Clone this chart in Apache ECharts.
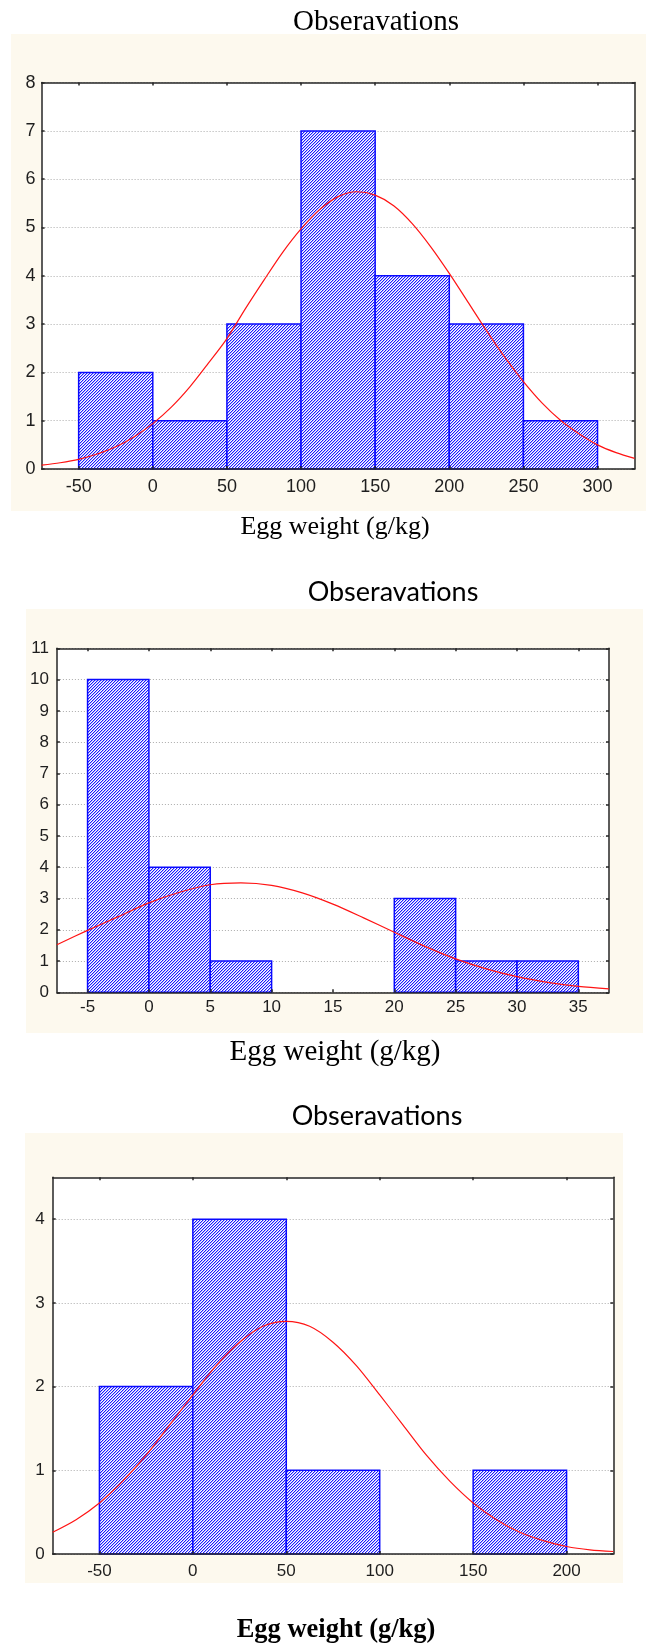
<!DOCTYPE html>
<html>
<head>
<meta charset="utf-8">
<script src="https://cdn.jsdelivr.net/npm/echarts@6.0.0/dist/echarts.min.js"></script>
<style>
  html, body { margin: 0; padding: 0; background: #fff; }
  #chart { width: 646px; height: 1648px; }
</style>
</head>
<body>
<div id="chart"></div>
<script>
// panel 1 — egg weight, bins of 50
const binStart1 = [-50, 0, 50, 100, 150, 200, 250];
const binEnd1 = [0, 50, 100, 150, 200, 250, 300];
const count1 = [2, 1, 3, 7, 4, 3, 1];
const curveX1 = [-75, -62.5, -50, -37.5, -25, -12.5, 0, 12.5, 25, 37.5, 50, 62.5, 75, 87.5, 100, 112.5, 125, 137.5,
  150, 162.5, 175, 187.5, 200, 212.5, 225, 237.5, 250, 262.5, 275, 287.5, 300, 312.5, 325];
const curveY1 = [0.08, 0.13, 0.20, 0.31, 0.46, 0.67, 0.94, 1.28, 1.70, 2.19, 2.70, 3.32, 3.91, 4.48, 4.97, 5.37, 5.64, 5.74,
  5.67, 5.45, 5.08, 4.60, 4.05, 3.46, 2.87, 2.31, 1.81, 1.37, 1.01, 0.73, 0.50, 0.34, 0.22];
const xTicks1 = [-50, 0, 50, 100, 150, 200, 250, 300];
const yTicks1 = [0, 1, 2, 3, 4, 5, 6, 7, 8];

// panel 2 — bins of 5
const binStart2 = [-5, 0, 5, 10, 15, 20, 25, 30];
const binEnd2 = [0, 5, 10, 15, 20, 25, 30, 35];
const count2 = [10, 4, 1, 0, 0, 3, 1, 1];
const curveX2 = [-7.5, -5, -2.5, 0, 2.5, 5, 7.5, 10, 12.5, 15, 17.5, 20, 22.5, 25, 27.5, 30, 32.5, 35, 37.5];
const curveY2 = [1.52, 1.98, 2.42, 2.86, 3.20, 3.44, 3.50, 3.42, 3.18, 2.82, 2.38, 1.92, 1.47, 1.07, 0.75, 0.50, 0.32, 0.19, 0.11];
const xTicks2 = [-5, 0, 5, 10, 15, 20, 25, 30, 35];
const yTicks2 = [0, 1, 2, 3, 4, 5, 6, 7, 8, 9, 10, 11];

// panel 3 — bins of 50
const binStart3 = [-50, 0, 50, 100, 150];
const binEnd3 = [0, 50, 100, 150, 200];
const count3 = [2, 4, 1, 0, 1];
const curveX3 = [-75, -62.5, -50, -37.5, -25, -12.5, 0, 12.5, 25, 37.5, 50, 62.5, 75, 87.5, 100, 112.5, 125,
  137.5, 150, 162.5, 175, 187.5, 200, 212.5, 225];
const curveY3 = [0.26, 0.41, 0.61, 0.87, 1.18, 1.54, 1.90, 2.25, 2.53, 2.72, 2.78, 2.72, 2.53, 2.25, 1.90, 1.54, 1.18,
  0.87, 0.61, 0.41, 0.26, 0.16, 0.09, 0.05, 0.03];
const xTicks3 = [-50, 0, 50, 100, 150, 200];
const yTicks3 = [0, 1, 2, 3, 4];

const titleText = 'Obseravations';
const xName = 'Egg weight (g/kg)';

// small 3x3 tile -> "////" hatching like the Statistica plots
function makeHatch() {
  const c = document.createElement('canvas');
  c.width = 3; c.height = 3;
  const ctx = c.getContext('2d');
  const img = ctx.createImageData(3, 3);
  const cols = [[25, 25, 255], [178, 178, 255], [255, 255, 255]];
  for (let y = 0; y < 3; y++) {
    for (let x = 0; x < 3; x++) {
      const k = (x + y) % 3;
      const i = (y * 3 + x) * 4;
      img.data[i] = cols[k][0];
      img.data[i + 1] = cols[k][1];
      img.data[i + 2] = cols[k][2];
      img.data[i + 3] = 255;
    }
  }
  ctx.putImageData(img, 0, 0);
  return c;
}
const hatch = { image: makeHatch(), repeat: 'repeat' };

const panels = [
  {
    bins: binStart1.map((s, i) => [s, binEnd1[i], count1[i]]),
    curve: curveX1.map((x, i) => [x, curveY1[i]]),
    xTicks: xTicks1, yTicks: yTicks1,
    xMin: -75, xMax: 325, yMax: 8,
    grid: { left: 41.6, top: 82.6, width: 593, height: 386.4 },
    fs: 18, xMargin: 9, yMargin: 6,
  },
  {
    bins: binStart2.map((s, i) => [s, binEnd2[i], count2[i]]),
    curve: curveX2.map((x, i) => [x, curveY2[i]]),
    xTicks: xTicks2, yTicks: yTicks2,
    xMin: -7.5, xMax: 37.5, yMax: 11,
    grid: { left: 56.9, top: 648.3, width: 552.1, height: 344 },
    fs: 17, xMargin: 7, yMargin: 8,
  },
  {
    bins: binStart3.map((s, i) => [s, binEnd3[i], count3[i]]),
    curve: curveX3.map((x, i) => [x, curveY3[i]]),
    xTicks: xTicks3, yTicks: yTicks3,
    xMin: -75, xMax: 225, yMax: 4.5,
    grid: { left: 52.7, top: 1177.3, width: 560.6, height: 376.7 },
    fs: 17, xMargin: 9, yMargin: 8,
  },
];

const frame = { show: true, onZero: false, lineStyle: { color: '#262626', width: 1.5 } };
const tick = { show: true, inside: true, length: 3, lineStyle: { color: '#262626', width: 1.5 } };
const labelFont = { fontFamily: "'Liberation Sans', Arial, sans-serif", color: '#1e1e1e' };

const grid = [], xAxis = [], yAxis = [], series = [];
panels.forEach((p, i) => {
  grid.push(Object.assign({ show: true, backgroundColor: '#fff', borderWidth: 0 }, p.grid));
  xAxis.push({
    gridIndex: i, type: 'value', position: 'bottom', min: p.xMin, max: p.xMax, z: 3,
    axisLine: frame,
    axisTick: Object.assign({ customValues: p.xTicks }, tick),
    axisLabel: Object.assign({ customValues: p.xTicks, fontSize: p.fs, margin: p.xMargin }, labelFont),
    splitLine: { show: false },
  });
  xAxis.push({
    gridIndex: i, type: 'value', position: 'top', min: p.xMin, max: p.xMax, z: 3,
    axisLine: frame,
    axisTick: Object.assign({ customValues: p.xTicks }, tick),
    axisLabel: { show: false },
    splitLine: { show: false },
  });
  yAxis.push({
    gridIndex: i, type: 'value', position: 'left', min: 0, max: p.yMax, interval: 1,
    axisLine: frame,
    axisTick: Object.assign({ customValues: p.yTicks }, tick),
    axisLabel: Object.assign({ customValues: p.yTicks, fontSize: p.fs, margin: p.yMargin }, labelFont),
    splitLine: { show: true, lineStyle: { color: '#ababab', width: 1, type: [1, 2] } },
  });
  yAxis.push({
    gridIndex: i, type: 'value', position: 'right', min: 0, max: p.yMax, interval: 1, z: 3,
    axisLine: frame,
    axisTick: Object.assign({ customValues: p.yTicks }, tick),
    axisLabel: { show: false },
    splitLine: { show: false },
  });
  series.push({
    type: 'custom', xAxisIndex: 2 * i, yAxisIndex: 2 * i, silent: true, z: 2,
    data: p.bins,
    encode: { x: [0, 1], y: 2 },
    renderItem: (params, api) => {
      const c = api.value(2);
      if (!c) return null;
      const a = api.coord([api.value(0), c]);
      const b = api.coord([api.value(1), 0]);
      return {
        type: 'rect',
        shape: { x: a[0], y: a[1], width: b[0] - a[0], height: b[1] - a[1] },
        style: { fill: hatch, stroke: '#0a0aff', lineWidth: 1.5 },
      };
    },
  });
  series.push({
    type: 'line', xAxisIndex: 2 * i, yAxisIndex: 2 * i, silent: true, z: 4,
    data: p.curve, smooth: 0.3, showSymbol: false, symbol: 'none',
    lineStyle: { color: '#ff1414', width: 1.2 },
  });
});

function txt(x, y, text, font) {
  return { type: 'text', z: 10, style: { x, y, text, font, fill: '#000', textAlign: 'center', textVerticalAlign: 'middle', align: 'center', verticalAlign: 'middle' } };
}
function panelBg(x, y, w, h) {
  return { type: 'rect', z: -10, shape: { x, y, width: w, height: h }, style: { fill: '#fdf9ee' } };
}

const serif = "'Liberation Serif', 'Times New Roman', serif";
const sans = "Lato, 'Open Sans', sans-serif";
const graphic = [
  panelBg(11, 34, 635, 477),
  panelBg(26, 609, 617, 424),
  panelBg(25, 1133, 598, 450),
  txt(376, 22, titleText, '29px ' + serif),
  txt(335, 527, xName, '26px ' + serif),
  txt(393, 592, titleText, '27px ' + sans),
  txt(335, 1052, xName, '29px ' + serif),
  txt(377, 1116, titleText, '27px ' + sans),
  txt(336, 1630, xName, 'bold 26.5px ' + serif),
];

const chart = echarts.init(document.getElementById('chart'));
chart.setOption({
  animation: false,
  backgroundColor: 'transparent',
  grid, xAxis, yAxis, series, graphic,
});
</script>
</body>
</html>
